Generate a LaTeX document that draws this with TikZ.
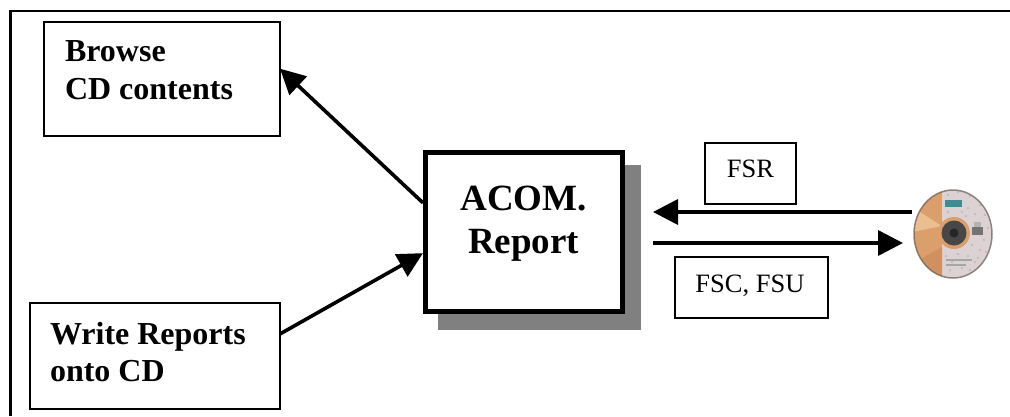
\documentclass[tikz,border=0pt]{standalone}
\usepackage{fontspec}
\setmainfont{Liberation Serif}
\usetikzlibrary{arrows.meta,shapes.geometric}
\definecolor{discorange}{HTML}{DB9F6C}
\definecolor{discpale}{HTML}{EBBE90}
\definecolor{discdeep}{HTML}{CF9160}
\definecolor{disclabel}{HTML}{DCD2D4}
\definecolor{discteal}{HTML}{3F8C92}
\definecolor{discedge}{HTML}{6E625C}
\tikzset{
  framebox/.style={draw=black,line width=1.6pt,fill=white,minimum width=#1,inner sep=0pt,outer sep=0pt},
  boldtext/.style={font=\fontsize{32}{37.5}\selectfont\bfseries,align=left},
  thinbox/.style={draw=black,line width=1.3pt,fill=white,inner sep=0pt,outer sep=0pt,font=\fontsize{26.5}{30}\selectfont},
  mainbox/.style={draw=black,line width=5pt,fill=white,inner sep=0pt,outer sep=2.5pt,font=\fontsize{37}{43}\selectfont\bfseries,align=center},
  flow/.style={draw=black,line width=3.6pt,-{Triangle[length=25pt,width=25pt]},shorten >=0pt},
}
\newcommand{\lowroom}[1]{\rule[-#1]{0pt}{1pt}}
\begin{document}
\begin{tikzpicture}[x=1pt,y=-1pt]
\useasboundingbox (0,0) rectangle (1010,416);
\fill[white] (0,0) rectangle (1010,416);
% outer frame: top and left edges only
\draw[black,line width=2.2pt] (10.5,416) -- (10.5,11) -- (1010,11);
% shadow
\node[fill=black!50,minimum width=203pt,minimum height=165pt,inner sep=0pt,outer sep=0pt] (shadow) at (539.5,247.5) {};
% boxes
\node[framebox=236pt,minimum height=114pt,boldtext] (browse) at (162,79) {\makebox[194pt][l]{Browse}\\CD contents\lowroom{18pt}};
\node[framebox=250pt,minimum height=106pt,boldtext] (write) at (155,356) {\makebox[210pt][l]{Write Reports}\\onto CD\lowroom{8pt}};
\node[mainbox,minimum width=196.5pt,minimum height=158.5pt] (acom) at (523.75,231.75) {ACOM.\\Report\lowroom{24pt}};
\node[thinbox,minimum width=91pt,minimum height=61pt] (fsr) at (750.5,173.5) {FSR\lowroom{10pt}};
\node[thinbox,minimum width=153pt,minimum height=61pt] (fsc) at (751.5,287.5) {FSC, FSU\hspace{3pt}\lowroom{8pt}};
% disc
\node[ellipse,minimum width=78pt,minimum height=88pt,inner sep=0pt,outer sep=0pt] (disc) at (953,234) {};
\begin{scope}
  \clip (953,234) ellipse [x radius=39,y radius=44];
  \fill[disclabel] (910,188) rectangle (995,280);
  \fill[discorange] (910,188) rectangle (942,280);
  \fill[discpale] (942,226) -- (912,207) -- (912,232) -- cycle;
  \fill[discdeep] (942,247) -- (915,262) -- (915,280) -- (942,280) -- cycle;
  \foreach \px/\py in {948/195,958/192,970/196,980/205,985/215,968/208,975/214,966/216,988/228,984/240,972/245,980/250,986/252,968/256,975/262,962/268,952/262,946/256,958/254,950/270,970/270,978/258,948/212,962/212}
    \fill[black!28] (\px,\py) circle (1.1);
  \fill[discteal] (945,200) rectangle (962,207);
  \fill[black!55] (972,227) rectangle (983,235);
  \fill[black!30] (974,222) rectangle (981,227);
  \fill[black!35] (946,259) rectangle (972,261);
  \fill[black!35] (946,264) rectangle (966,266);
\end{scope}
\draw[discedge,line width=1.5pt,opacity=.75] (953,234) ellipse [x radius=39,y radius=44];
\fill[discorange] (954,233) circle (16);
\fill[black!72] (954,233) circle (12.5);
\fill[black!85] (954,233) circle (4.5);
% connectors
\coordinate (fsrstart) at (912,212);
\coordinate (fsrend) at (653,212);
\coordinate (fscstart) at (653,243);
\coordinate (fscend) at (903,243);
\draw[flow] (acom.164) -- (browse.5.3);
\draw[flow] (write.10) -- (acom.192.3);
\draw[flow] (fsrstart) -- (fsrend);
\draw[flow] (fscstart) -- (fscend);
\end{tikzpicture}
\end{document}
